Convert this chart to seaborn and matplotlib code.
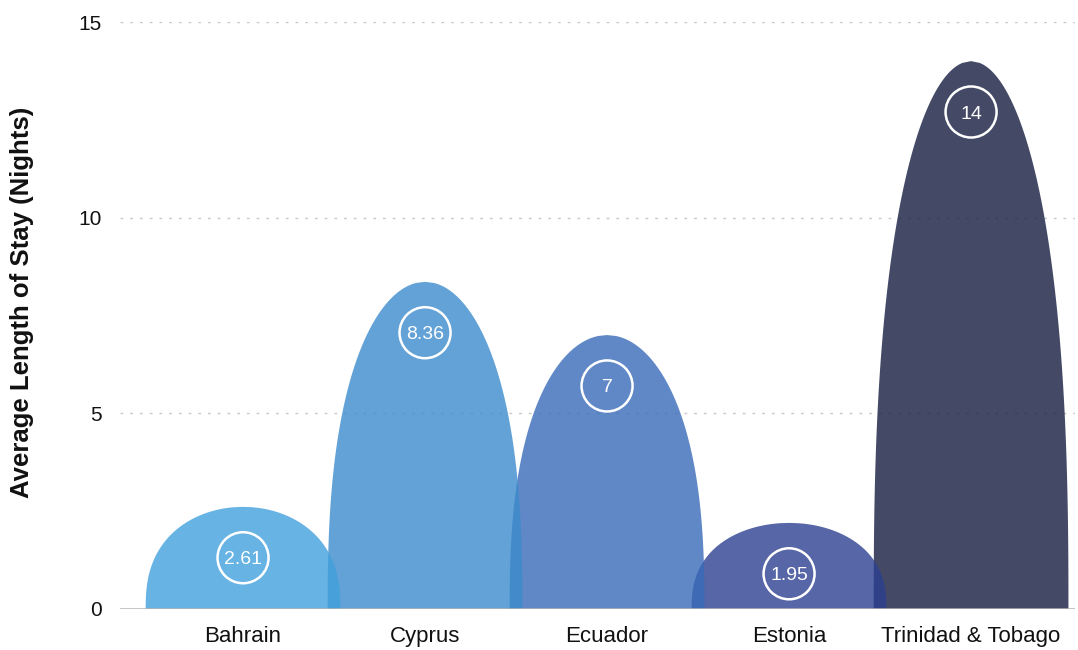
import numpy as np
import matplotlib
matplotlib.use("Agg")
import matplotlib.pyplot as plt
import seaborn as sns

# data
countries = ["Bahrain", "Cyprus", "Ecuador", "Estonia", "Trinidad & Tobago"]
nights = [2.61, 8.36, 7, 2.2, 14]          # column heights as drawn
value_labels = ["2.61", "8.36", "7", "1.95", "14"]
colors = ["#41a0dc", "#3c8bcc", "#386ab8", "#2d4090", "#151c40"]
yticks = [0, 5, 10, 15]

sns.set_theme(style="white")
plt.rcParams["font.family"] = ["Liberation Sans", "DejaVu Sans"]

fig = plt.figure(figsize=(10.78, 6.5), dpi=100)
ax = fig.add_axes([120 / 1078, 41 / 650, 955 / 1078, 587 / 650])

pos = np.arange(len(countries))


def dome(center, height, half_width=0.535, n=300):
    # rounded "curved column" outline, a bit fuller than an ellipse
    v = np.linspace(0, 1, n)
    r = half_width * np.sqrt(np.clip(1 - v ** 2.5, 0, None))
    xs = np.concatenate([center - r, (center + r)[::-1]])
    ys = np.concatenate([v * height, (v * height)[::-1]])
    return xs, ys


# later columns go underneath the earlier ones
for i, (h, c) in enumerate(zip(nights, colors)):
    xs, ys = dome(pos[i], h)
    ax.fill(xs, ys, color=c, alpha=0.8, lw=0, zorder=10 - i)

# white ring labels near the top of each column
label_y = np.array(nights) - 1.3
sns.scatterplot(x=pos, y=label_y, s=1350, marker="o", facecolor="none",
                edgecolor="white", linewidth=1.8, ax=ax, zorder=20, legend=False)
for x, y, t in zip(pos, label_y, value_labels):
    ax.text(x, y, t, color="white", fontsize=14, ha="center", va="center_baseline", zorder=21)

ax.set_xlim(-0.676, 4.571)
ax.set_ylim(0, 15)
ax.set_xticks(pos, labels=countries)
ax.set_yticks(yticks)
ax.tick_params(axis="both", length=0, labelsize=15, colors="#111111")
ax.tick_params(axis="x", labelsize=16, pad=12)
ax.tick_params(axis="y", pad=13)

for y in yticks[1:]:
    ax.axhline(y, color="#c8c8c8", lw=1, ls=(0, (2, 5)), zorder=0)
ax.axhline(0, color="#b4b4b4", lw=1.8, zorder=30)

for s in ax.spines.values():
    s.set_visible(False)

ax.set_xlabel("")
ax.set_ylabel("Average Length of Stay (Nights)", fontsize=18.5, fontweight="bold", color="#111111")
ax.yaxis.set_label_coords(-0.09, 0.523)

fig.savefig("out.png", dpi=100)
